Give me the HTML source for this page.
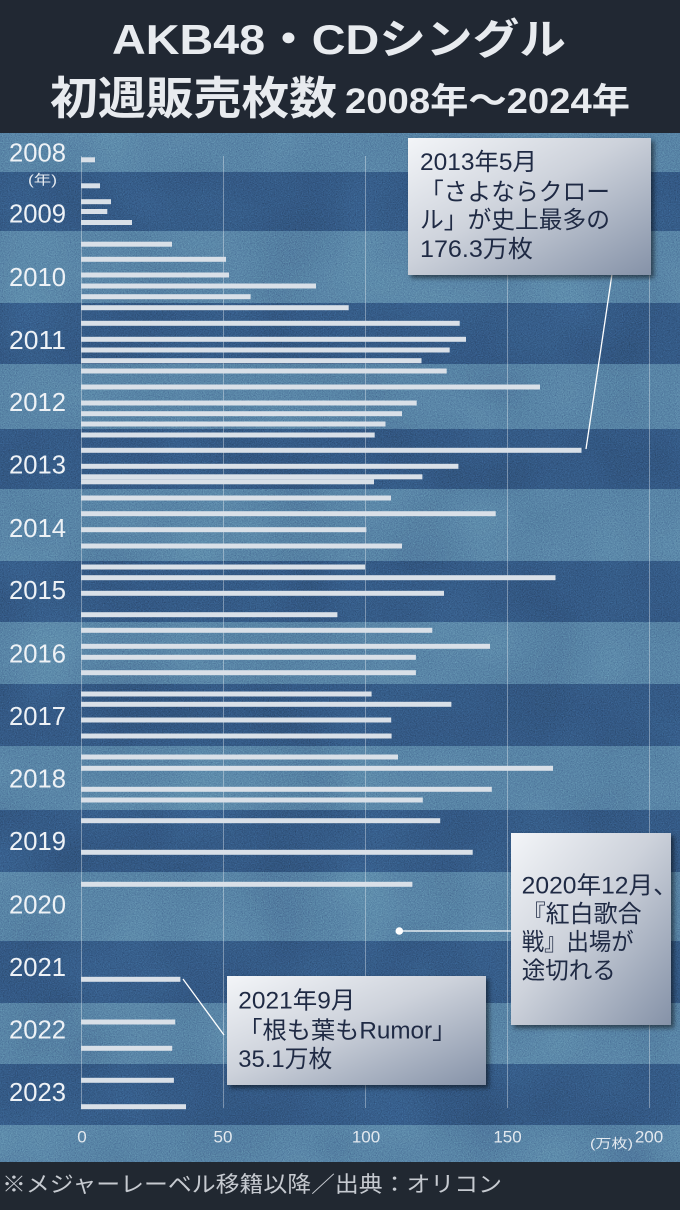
<!DOCTYPE html>
<html><head><meta charset="utf-8"><style>
html,body{margin:0;padding:0;background:#212833;}
svg{display:block;}
text{font-family:"Liberation Sans","Noto Sans CJK JP",sans-serif;}
</style></head><body>
<svg width="680" height="1210" viewBox="0 0 680 1210" xmlns="http://www.w3.org/2000/svg">
<defs>
<filter id="noise" x="0" y="0" width="100%" height="100%" color-interpolation-filters="sRGB">
<feTurbulence type="fractalNoise" baseFrequency="0.85" numOctaves="3" seed="7" result="t"/>
<feColorMatrix in="t" type="matrix" values="0.4 0.4 0.4 0 -0.1  0.4 0.4 0.4 0 -0.1  0.4 0.4 0.4 0 -0.1  0 0 0 0 1"/>
</filter>
<filter id="mottle" x="0" y="0" width="100%" height="100%" color-interpolation-filters="sRGB">
<feTurbulence type="fractalNoise" baseFrequency="0.012" numOctaves="2" seed="3" result="t"/>
<feColorMatrix in="t" type="matrix" values="0.33 0.33 0.33 0 0  0.33 0.33 0.33 0 0  0.33 0.33 0.33 0 0  0 0 0 0 1"/>
</filter>
<linearGradient id="box" x1="0" y1="0" x2="1" y2="1">
<stop offset="0" stop-color="#f3f5f8"/>
<stop offset="0.45" stop-color="#cdd2db"/>
<stop offset="1" stop-color="#8592a8"/>
</linearGradient>
<filter id="sh" x="-10%" y="-10%" width="130%" height="130%" color-interpolation-filters="sRGB">
<feDropShadow dx="3" dy="3" stdDeviation="2.5" flood-color="#000" flood-opacity="0.5"/>
</filter>
</defs>

<rect x="0" y="0" width="680" height="133" fill="#212833"/>

<g>
<rect x="0" y="133" width="680" height="39" fill="#5884a6"/>
<rect x="0" y="172" width="680" height="59" fill="#345a86"/>
<rect x="0" y="231" width="680" height="72" fill="#5884a6"/>
<rect x="0" y="303" width="680" height="61" fill="#345a86"/>
<rect x="0" y="364" width="680" height="65" fill="#5884a6"/>
<rect x="0" y="429" width="680" height="60" fill="#345a86"/>
<rect x="0" y="489" width="680" height="72" fill="#5884a6"/>
<rect x="0" y="561" width="680" height="61" fill="#345a86"/>
<rect x="0" y="622" width="680" height="62" fill="#5884a6"/>
<rect x="0" y="684" width="680" height="62" fill="#345a86"/>
<rect x="0" y="746" width="680" height="64" fill="#5884a6"/>
<rect x="0" y="810" width="680" height="62" fill="#345a86"/>
<rect x="0" y="872" width="680" height="69" fill="#5884a6"/>
<rect x="0" y="941" width="680" height="62" fill="#345a86"/>
<rect x="0" y="1003" width="680" height="61" fill="#5884a6"/>
<rect x="0" y="1064" width="680" height="61" fill="#345a86"/>
<rect x="0" y="1125" width="680" height="37" fill="#5884a6"/>
</g>
<rect x="0" y="133" width="680" height="1029" filter="url(#mottle)" opacity="0.2" style="mix-blend-mode:overlay"/>
<rect x="0" y="133" width="680" height="1029" filter="url(#noise)" opacity="0.4" style="mix-blend-mode:overlay"/>

<g stroke="#ffffff" stroke-opacity="0.35" stroke-width="1">
<line x1="81.5" y1="156" x2="81.5" y2="1108"/>
<line x1="223.5" y1="156" x2="223.5" y2="1108"/>
<line x1="365.5" y1="156" x2="365.5" y2="1108"/>
<line x1="507.5" y1="156" x2="507.5" y2="1108"/>
<line x1="649.5" y1="156" x2="649.5" y2="1108"/>
</g>

<g fill="#d9e0e8">
<rect x="81" y="157.3" width="14" height="5"/>
<rect x="81" y="183.3" width="19" height="5"/>
<rect x="81" y="199.2" width="30" height="5"/>
<rect x="81" y="209" width="26.3" height="5"/>
<rect x="81" y="220" width="51" height="5"/>
<rect x="81" y="241.7" width="91" height="5"/>
<rect x="81" y="256.8" width="145" height="5"/>
<rect x="81" y="272.5" width="148" height="5"/>
<rect x="81" y="283.5" width="235" height="5"/>
<rect x="81" y="294.2" width="169.6" height="5"/>
<rect x="81" y="305.2" width="267.7" height="5"/>
<rect x="81" y="320.8" width="378.7" height="5"/>
<rect x="81" y="336.8" width="385" height="5"/>
<rect x="81" y="347.5" width="368.7" height="5"/>
<rect x="81" y="358.2" width="340.5" height="5"/>
<rect x="81" y="368.5" width="365.7" height="5"/>
<rect x="81" y="384.5" width="459" height="5"/>
<rect x="81" y="400.5" width="335.7" height="5"/>
<rect x="81" y="411.2" width="321" height="5"/>
<rect x="81" y="421.5" width="304.5" height="5"/>
<rect x="81" y="432.5" width="293.7" height="5"/>
<rect x="81" y="447.8" width="500.5" height="5"/>
<rect x="81" y="463.8" width="377.4" height="5"/>
<rect x="81" y="474.3" width="341.4" height="5"/>
<rect x="81" y="479.3" width="293" height="5"/>
<rect x="81" y="495.5" width="310" height="5"/>
<rect x="81" y="511.2" width="414.7" height="5"/>
<rect x="81" y="527.2" width="285.4" height="5"/>
<rect x="81" y="543.5" width="321" height="5"/>
<rect x="81" y="564.5" width="284" height="5"/>
<rect x="81" y="575.2" width="474.5" height="5"/>
<rect x="81" y="590.8" width="363" height="5"/>
<rect x="81" y="612.2" width="256.4" height="5"/>
<rect x="81" y="627.8" width="351.3" height="5"/>
<rect x="81" y="643.8" width="409" height="5"/>
<rect x="81" y="654.8" width="334.9" height="5"/>
<rect x="81" y="670.2" width="334.9" height="5"/>
<rect x="81" y="691.5" width="290.6" height="5"/>
<rect x="81" y="701.8" width="370.4" height="5"/>
<rect x="81" y="717.5" width="310.2" height="5"/>
<rect x="81" y="733.5" width="310.6" height="5"/>
<rect x="81" y="754.5" width="317" height="5"/>
<rect x="81" y="765.8" width="472" height="5"/>
<rect x="81" y="786.8" width="410.8" height="5"/>
<rect x="81" y="797.5" width="341.8" height="5"/>
<rect x="81" y="818.2" width="359.2" height="5"/>
<rect x="81" y="849.8" width="391.7" height="5"/>
<rect x="81" y="881.8" width="331.4" height="5"/>
<rect x="81" y="976.8" width="99.4" height="5"/>
<rect x="81" y="1019.5" width="94.2" height="5"/>
<rect x="81" y="1045.8" width="91.2" height="5"/>
<rect x="81" y="1077.8" width="92.9" height="5"/>
<rect x="81" y="1104.2" width="105" height="5"/>
</g>

<g fill="#eef2f6" font-size="25.5">
<text x="9" y="161.5" textLength="57" lengthAdjust="spacingAndGlyphs">2008</text>
<text x="9" y="222.5" textLength="57" lengthAdjust="spacingAndGlyphs">2009</text>
<text x="9" y="286" textLength="57" lengthAdjust="spacingAndGlyphs">2010</text>
<text x="9" y="349" textLength="57" lengthAdjust="spacingAndGlyphs">2011</text>
<text x="9" y="411" textLength="57" lengthAdjust="spacingAndGlyphs">2012</text>
<text x="9" y="473.5" textLength="57" lengthAdjust="spacingAndGlyphs">2013</text>
<text x="9" y="537" textLength="57" lengthAdjust="spacingAndGlyphs">2014</text>
<text x="9" y="599" textLength="57" lengthAdjust="spacingAndGlyphs">2015</text>
<text x="9" y="662.5" textLength="57" lengthAdjust="spacingAndGlyphs">2016</text>
<text x="9" y="725" textLength="57" lengthAdjust="spacingAndGlyphs">2017</text>
<text x="9" y="787.5" textLength="57" lengthAdjust="spacingAndGlyphs">2018</text>
<text x="9" y="850" textLength="57" lengthAdjust="spacingAndGlyphs">2019</text>
<text x="9" y="913.5" textLength="57" lengthAdjust="spacingAndGlyphs">2020</text>
<text x="9" y="976" textLength="57" lengthAdjust="spacingAndGlyphs">2021</text>
<text x="9" y="1038.5" textLength="57" lengthAdjust="spacingAndGlyphs">2022</text>
<text x="9" y="1101" textLength="57" lengthAdjust="spacingAndGlyphs">2023</text>
</g>
<text x="28" y="184.5" font-size="13.5" fill="#e6ebf0" textLength="29" lengthAdjust="spacingAndGlyphs">(年)</text>

<g fill="#e3e9ef" font-size="17" text-anchor="middle">
<text x="82" y="1142.5">0</text>
<text x="223" y="1142.5">50</text>
<text x="366" y="1142.5">100</text>
<text x="507.5" y="1142.5">150</text>
<text x="649" y="1142.5">200</text>
</g>
<text x="590" y="1148" font-size="13" fill="#e3e9ef" textLength="43" lengthAdjust="spacingAndGlyphs">(万枚)</text>

<g stroke="#ffffff" stroke-width="1.3">
<line x1="586" y1="449" x2="612" y2="274"/>
<line x1="183" y1="979" x2="224" y2="1035"/>
<line x1="399" y1="931" x2="512" y2="931"/>
</g>
<circle cx="399.3" cy="931" r="3.8" fill="#ffffff"/>

<rect x="408" y="138" width="243" height="137" fill="url(#box)" filter="url(#sh)"/>
<g fill="#1f2a44" font-size="24">
<text x="420" y="170" textLength="117" lengthAdjust="spacingAndGlyphs">2013年5月</text>
<text x="420" y="200" textLength="190" lengthAdjust="spacingAndGlyphs">「さよならクロー</text>
<text x="420" y="228" textLength="190" lengthAdjust="spacingAndGlyphs">ル」が史上最多の</text>
<text x="420" y="257" textLength="113" lengthAdjust="spacingAndGlyphs">176.3万枚</text>
</g>

<rect x="511" y="833" width="160" height="192" fill="url(#box)" filter="url(#sh)"/>
<g fill="#1f2a44" font-size="24">
<text x="521.7" y="893.5" textLength="156" lengthAdjust="spacingAndGlyphs">2020年12月、</text>
<text x="521.7" y="922">『紅白歌合</text>
<text x="521.7" y="950" textLength="112" lengthAdjust="spacingAndGlyphs">戦』出場が</text>
<text x="521.7" y="978.5" textLength="94" lengthAdjust="spacingAndGlyphs">途切れる</text>
</g>

<rect x="227" y="976" width="259" height="109" fill="url(#box)" filter="url(#sh)"/>
<g fill="#1f2a44" font-size="24">
<text x="238.3" y="1008.5" textLength="117" lengthAdjust="spacingAndGlyphs">2021年9月</text>
<text x="238.3" y="1038.5" textLength="218" lengthAdjust="spacingAndGlyphs">「根も葉もRumor」</text>
<text x="238.3" y="1067" textLength="94" lengthAdjust="spacingAndGlyphs">35.1万枚</text>
</g>

<g fill="#e8ebef" font-weight="bold">
<text x="112" y="54" font-size="42" textLength="454" lengthAdjust="spacingAndGlyphs">AKB48・CDシングル</text>
<text x="50" y="114" font-size="45" textLength="287" lengthAdjust="spacingAndGlyphs">初週販売枚数</text>
<text x="345" y="113" font-size="35" textLength="285" lengthAdjust="spacingAndGlyphs">2008年〜2024年</text>
</g>

<rect x="0" y="1162" width="680" height="48" fill="#212831"/>
<text x="2" y="1192" font-size="22" fill="#c6cad0" textLength="500" lengthAdjust="spacingAndGlyphs">※メジャーレーベル移籍以降／出典：オリコン</text>
</svg>
</body></html>
